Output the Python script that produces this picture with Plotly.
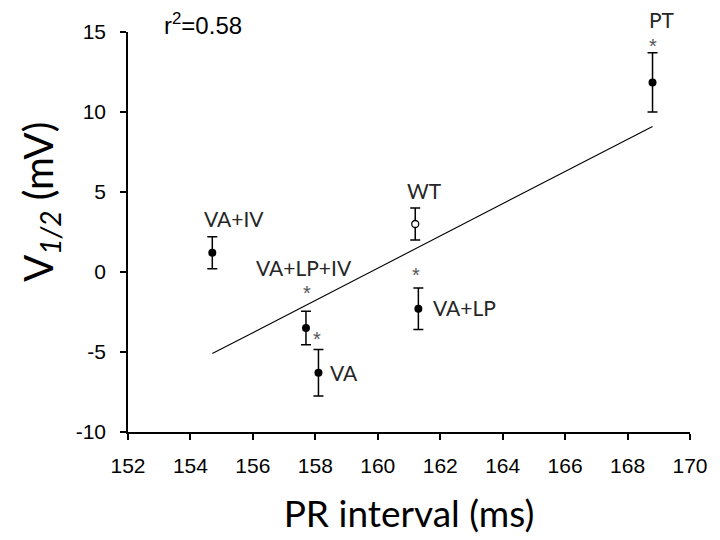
import plotly.graph_objects as go

# ---- data ----
groups = ["VA+IV", "VA+LP+IV", "VA", "WT", "VA+LP", "PT"]
pr_ms = [154.7, 157.7, 158.1, 161.2, 161.3, 168.8]
v_half = [1.2, -3.5, -6.3, 3.0, -2.3, 11.85]
v_err = [1.0, 1.05, 1.45, 1.0, 1.3, 1.85]
fit_x = [154.7, 168.8]
fit_y = [-5.1, 9.1]
r2_text = "r<sup>2</sup>=0.58"
x_ticks = [152, 154, 156, 158, 160, 162, 164, 166, 168, 170]
y_ticks = [-10, -5, 0, 5, 10, 15]
y_ticktext = ["-10", "-5", "0", "5", "10", "15"]
x_title = "PR interval (ms)"
y_title = "V<sub><i>1/2</i></sub> (mV)"

# label placement (style), in plot-area fractions
def fx(v):
    return (v - 152) / 18.0

def fy(v):
    return (v + 10) / 25.0

label_pos = {
    "VA+IV": (155.38, 3.35, "center"),
    "VA+LP+IV": (157.65, 0.3, "center"),
    "VA": (158.4, -6.3, "left"),
    "WT": (161.5, 5.1, "center"),
    "VA+LP": (161.7, -2.2, "left"),
    "PT": (169.1, 15.75, "center"),
}
# star anchors: top of the text box
star_pos = {
    "VA+LP+IV": (157.72, -0.5),
    "VA": (158.04, -3.35),
    "VA+LP": (161.21, 0.6),
    "PT": (168.8, 14.95),
}

fig = go.Figure()

fig.add_trace(go.Scatter(
    x=fit_x, y=fit_y, mode="lines",
    line=dict(color="black", width=1.1),
    showlegend=False, hoverinfo="skip"))

filled_idx = [i for i, g in enumerate(groups) if g != "WT"]
open_idx = [i for i, g in enumerate(groups) if g == "WT"]

fig.add_trace(go.Scatter(
    x=[pr_ms[i] for i in filled_idx],
    y=[v_half[i] for i in filled_idx],
    mode="markers",
    marker=dict(color="black", size=8, symbol="circle"),
    error_y=dict(type="data", array=[v_err[i] for i in filled_idx],
                 color="black", thickness=1.5, width=5),
    showlegend=False, cliponaxis=False))

fig.add_trace(go.Scatter(
    x=[pr_ms[i] for i in open_idx],
    y=[v_half[i] for i in open_idx],
    mode="markers",
    marker=dict(color="white", size=7, symbol="circle",
                line=dict(color="black", width=1.3)),
    error_y=dict(type="data", array=[v_err[i] for i in open_idx],
                 color="black", thickness=1.5, width=5),
    showlegend=False, cliponaxis=False))

annotations = []
for g in groups:
    x, y, anchor = label_pos[g]
    annotations.append(dict(x=fx(x), y=fy(y), xref="paper", yref="paper", text=g,
                            showarrow=False, xanchor=anchor, yanchor="middle",
                            font=dict(family="Lato", size=21, color="#262626")))
for g, (x, y) in star_pos.items():
    annotations.append(dict(x=fx(x), y=fy(y), xref="paper", yref="paper", text="*",
                            showarrow=False, xanchor="center", yanchor="top",
                            font=dict(family="Liberation Sans", size=20, color="#555555")))
annotations.append(dict(x=0.133, y=1.02, xref="paper", yref="paper", text=r2_text,
                        showarrow=False, xanchor="center", yanchor="middle",
                        font=dict(family="Liberation Sans", size=24, color="black")))
annotations.append(dict(x=-0.157, y=0.575, xref="paper", yref="paper", text=y_title,
                        showarrow=False, textangle=-90, xanchor="center", yanchor="middle",
                        font=dict(family="Lato", size=40, color="black")))

fig.update_layout(
    width=720, height=540,
    margin=dict(l=128, r=21, t=32, b=108),
    paper_bgcolor="white", plot_bgcolor="white",
    annotations=annotations,
    xaxis=dict(range=[152, 170], tickvals=x_ticks, showgrid=False, zeroline=False,
               showline=True, linecolor="black", linewidth=1.5,
               ticks="outside", ticklen=6, tickcolor="black", tickwidth=1.5,
               ticklabelstandoff=8,
               tickfont=dict(family="Liberation Sans", size=21, color="black"),
               title=dict(text=x_title, standoff=25,
                          font=dict(family="Lato", size=37, color="black"))),
    yaxis=dict(range=[-10, 15], tickvals=y_ticks, ticktext=y_ticktext,
               showgrid=False, zeroline=False,
               showline=True, linecolor="black", linewidth=1.5,
               ticks="outside", ticklen=6, tickcolor="black", tickwidth=1.5,
               ticklabelstandoff=10,
               tickfont=dict(family="Liberation Sans", size=21, color="black")),
)

fig.write_html("out.html")
